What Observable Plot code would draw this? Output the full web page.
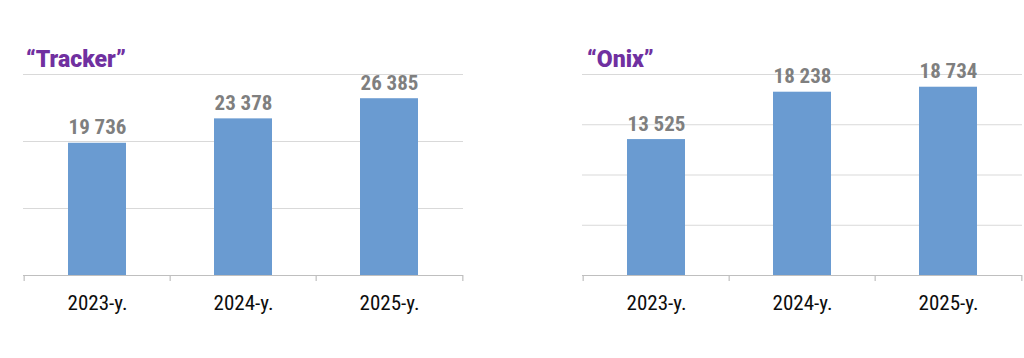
<!DOCTYPE html>
<html>
<head>
<meta charset="utf-8">
<script src="https://cdn.jsdelivr.net/npm/d3@7"></script>
<script src="https://cdn.jsdelivr.net/npm/@observablehq/plot@0.6"></script>
<style>
  html, body { margin: 0; padding: 0; background: #fff; width: 1024px; height: 358px; overflow: hidden; }
  .panel { position: absolute; top: 0; }
  .title { position: absolute; top: 48px; line-height: 23px; font-family: Roboto, sans-serif; font-weight: 900; font-size: 23px; color: #7030a0; z-index: 2; white-space: nowrap; }
</style>
</head>
<body>
<div id="left" class="panel" style="left:0px;width:480px;"><div class="title" style="left:26px;">“Tracker”</div></div>
<div id="right" class="panel" style="left:560px;width:464px;"><div class="title" style="left:27px;">“Onix”</div></div>
<script>
const years = ["2023-y.", "2024-y.", "2025-y."];
const trackerValues = [19736, 23378, 26385];
const onixValues = [13525, 18238, 18734];
const trackerTicks = [0, 10000, 20000, 30000];
const onixTicks = [0, 5000, 10000, 15000, 20000];

const fmt = v => d3.format(",")(v).replace(/,/g, " ");

function chart({values, yTicks, width, marginLeft, marginRight}) {
  const data = years.map((y, i) => ({year: y, value: values[i]}));
  const height = 340, marginTop = 74, marginBottom = 65;
  const step = (width - marginLeft - marginRight) / years.length;
  const inset = step * 0.3;
  const font = '"Roboto Condensed", Roboto, sans-serif';
  return Plot.plot({
    width, height, marginTop, marginBottom, marginLeft, marginRight,
    style: {fontFamily: font, background: "transparent"},
    x: {domain: years, padding: 0, label: null},
    y: {domain: [0, d3.max(yTicks)], ticks: yTicks, label: null, axis: null},
    marks: [
      Plot.gridY(yTicks.filter(t => t > 0), {stroke: "#d9d9d9", strokeOpacity: 1, strokeWidth: 1}),
      Plot.barY(data, {x: "year", y: "value", fill: "#6a9bd1", insetLeft: inset, insetRight: inset}),
      Plot.ruleY([0], {stroke: "#bfbfbf", strokeWidth: 1.2}),
      Plot.axisX({ticks: years, tickSize: 6, text: null, stroke: "#bfbfbf", strokeWidth: 1.2, dx: -step / 2}),
      Plot.axisX({ticks: years.slice(-1), tickSize: 6, text: null, stroke: "#bfbfbf", strokeWidth: 1.2, dx: step / 2}),
      Plot.axisX({tickSize: 0, tickPadding: 20, fontSize: 21, fill: "#0d0d0d", fontFamily: font}),
      Plot.text(data, {x: "year", y: "value", text: d => fmt(d.value), lineAnchor: "bottom", dy: -9,
        fontSize: 21, fontWeight: 700, fill: "#7f7f7f", fontFamily: font})
    ]
  });
}

document.getElementById("left").prepend(chart({values: trackerValues, yTicks: trackerTicks, width: 480, marginLeft: 23, marginRight: 17}));
document.getElementById("right").prepend(chart({values: onixValues, yTicks: onixTicks, width: 464, marginLeft: 22, marginRight: 2}));
</script>
</body>
</html>
